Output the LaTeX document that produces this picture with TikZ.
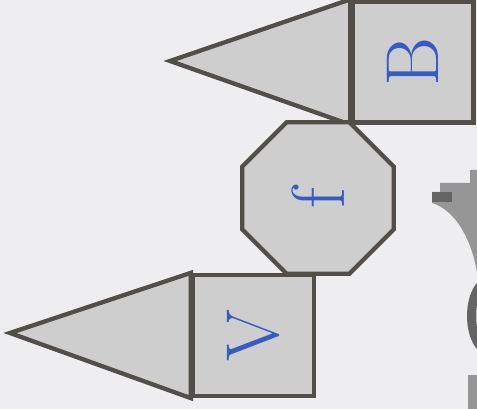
\documentclass[tikz,border=0pt]{standalone}
\usepackage{fontspec}
\usepackage{tikz}
\usetikzlibrary{shapes.geometric,positioning}

\definecolor{paper}{RGB}{238,238,241}
\definecolor{tilegray}{RGB}{206,206,206}
\definecolor{edgegray}{RGB}{82,78,74}
\definecolor{letterblue}{RGB}{52,92,196}
\definecolor{shadowgray}{RGB}{150,150,150}
\definecolor{shadowdark}{RGB}{100,100,100}

\begin{document}
\begin{tikzpicture}[
    x=1pt, y=-1pt,
    tile/.style={draw=edgegray, fill=tilegray, line width=4.3pt, line join=miter},
    square/.style={tile, minimum size=121pt, inner sep=0pt},
    octa/.style={tile, regular polygon, regular polygon sides=8,
      minimum size=164pt, inner sep=0pt},
    letter/.style={text=letterblue, rotate=90, inner sep=0pt,
      font=\fontsize{75}{75}\selectfont}
  ]
  % paper and frame
  \fill[paper] (0,0) rectangle (477,409);
  \useasboundingbox (0,0) rectangle (477,409);
  \clip (0,0) rectangle (477,409);

  % grey letter in the background
  \fill[shadowgray] (432,192) -| (440,183) -| (470,170) -| (477,272)
    .. controls (471,238) and (455,210) .. (432,203) -- cycle;
  \fill[shadowdark] (432,192) rectangle (452,202);
  \fill[shadowdark] (487,316) ellipse (20 and 38);
  \fill[shadowgray!60] (490,316) ellipse (14 and 30);
  \fill[shadowgray] (468,375) rectangle (477,409);

  % tiles
  \coordinate (btip) at (170,61);
  \coordinate (vtip) at (10,333);

  \node[square] (bsq) at (413,62) {};
  \draw[tile] (bsq.north west) -- (btip) -- (bsq.south west) -- cycle;

  \node[octa] (fo) at (318,198) {};

  \node[square] (vsq) at (253.5,335.5) {};
  \draw[tile] (vsq.north west) -- (vtip) -- (vsq.south west) -- cycle;

  % letters
  \node[letter] (b) at (bsq) {B};
  \node[letter] (f) at (fo) {f};
  \node[letter] (v) at (vsq) {V};
\end{tikzpicture}
\end{document}
